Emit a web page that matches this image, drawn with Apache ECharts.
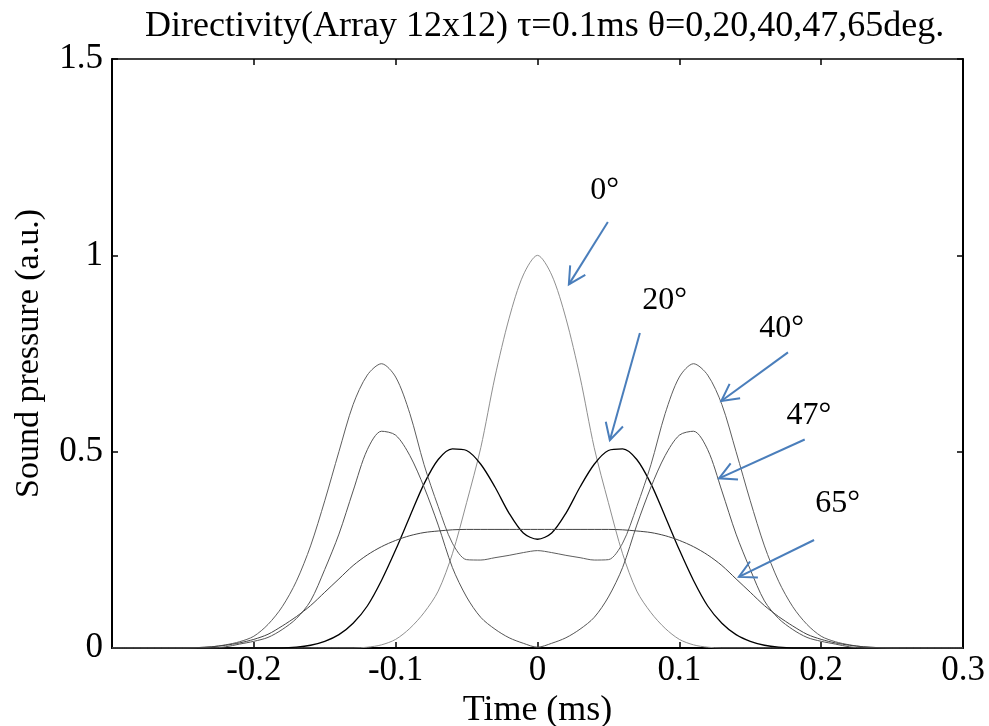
<!DOCTYPE html>
<html>
<head>
<meta charset="utf-8">
<script src="https://cdn.jsdelivr.net/npm/echarts@6/dist/echarts.min.js"></script>
<style>
html,body{margin:0;padding:0;background:#fff;}
#c{width:989px;height:726px;}
</style>
</head>
<body>
<div id="c"></div>
<script>
const time = [-0.30,-0.29,-0.28,-0.27,-0.26,-0.25,-0.24,-0.23,-0.22,-0.21,
  -0.20,-0.19,-0.18,-0.17,-0.16,-0.15,-0.14,-0.13,-0.12,-0.11,
  -0.10,-0.09,-0.08,-0.07,-0.06,-0.05,-0.04,-0.03,-0.02,-0.01,
  0.00,
  0.01,0.02,0.03,0.04,0.05,0.06,0.07,0.08,0.09,0.10,
  0.11,0.12,0.13,0.14,0.15,0.16,0.17,0.18,0.19,0.20,
  0.21,0.22,0.23,0.24,0.25,0.26,0.27,0.28,0.29,0.30];

const deg0 = [0,0,0,0,0,0,0,0,0,0,
  0,0,0,0,0,0,0,0,0.002,0.008,
  0.022,0.05,0.09,0.145,0.24,0.37,0.51,0.69,0.84,0.95,
  1.0,
  0.95,0.84,0.69,0.51,0.37,0.24,0.145,0.09,0.05,0.022,
  0.008,0.002,0,0,0,0,0,0,0,0,
  0,0,0,0,0,0,0,0,0,0];

const deg20 = [0,0,0,0,0,0,0,0,0,0,
  0,0,0,0.002,0.007,0.017,0.034,0.063,0.107,0.172,
  0.25,0.335,0.418,0.48,0.507,0.503,0.468,0.41,0.343,0.293,
  0.277,
  0.293,0.343,0.41,0.468,0.503,0.507,0.48,0.418,0.335,0.25,
  0.172,0.107,0.063,0.034,0.017,0.007,0.002,0,0,0,
  0,0,0,0,0,0,0,0,0,0];

const deg40 = [0,0,0,0,0,0,0.001,0.003,0.008,0.016,
  0.03,0.06,0.105,0.17,0.26,0.375,0.5,0.62,0.695,0.724,
  0.69,0.597,0.467,0.36,0.267,0.225,0.224,0.23,0.236,0.243,
  0.248,
  0.243,0.236,0.23,0.224,0.225,0.267,0.36,0.467,0.597,0.69,
  0.724,0.695,0.62,0.5,0.375,0.26,0.17,0.105,0.06,0.03,
  0.016,0.008,0.003,0.001,0,0,0,0,0,0];

const deg47 = [0,0,0,0,0,0,0,0,0.003,0.01,
  0.017,0.027,0.047,0.075,0.12,0.2,0.29,0.4,0.505,0.552,
  0.542,0.49,0.41,0.313,0.205,0.13,0.078,0.048,0.026,0.012,
  0.002,
  0.012,0.026,0.048,0.078,0.13,0.205,0.313,0.41,0.49,0.542,
  0.552,0.505,0.4,0.29,0.2,0.12,0.075,0.047,0.027,0.017,
  0.01,0.003,0,0,0,0,0,0,0,0];

const deg65 = [0,0,0,0,0,0,0.001,0.003,0.007,0.013,
  0.022,0.035,0.056,0.08,0.108,0.142,0.176,0.21,0.237,0.258,
  0.274,0.286,0.294,0.298,0.301,0.302,0.302,0.302,0.302,0.302,
  0.302,
  0.302,0.302,0.302,0.302,0.302,0.301,0.298,0.294,0.286,0.274,
  0.258,0.237,0.21,0.176,0.142,0.108,0.08,0.056,0.035,0.022,
  0.013,0.007,0.003,0.001,0,0,0,0,0,0];

const xTicks = [-0.3,-0.2,-0.1,0,0.1,0.2,0.3];
const yTicks = [0,0.5,1,1.5];

const seriesNames = ['0°','20°','40°','47°','65°'];
const seriesValues = [deg0, deg20, deg40, deg47, deg65];

// annotation labels and arrows (data coordinates)
const labelPos = [[0.0473,1.165],[0.0896,0.885],[0.1722,0.814],[0.1913,0.593],[0.2117,0.369]];
const arrowFrom = [[0.0496,1.085],[0.0722,0.802],[0.1766,0.753],[0.1884,0.531],[0.195,0.275]];
const arrowTo = [[0.0221,0.926],[0.0510,0.529],[0.1296,0.629],[0.128,0.432],[0.142,0.181]];

const FONT = '"Liberation Serif","Times New Roman",serif';
const lineColors = ['#8f8f8f','#000000','#5e5e5e','#555555','#444444'];
const lineWidths = [1,1.3,1,1,1];

const chart = echarts.init(document.getElementById('c'), null, {renderer:'canvas'});

function xFmt(v){
  if (Math.abs(v - xTicks[0]) < 1e-9) return '';
  return String(+v.toFixed(1));
}
function yFmt(v){ return String(+v.toFixed(1)); }

const axisCommon = {
  axisLine:{onZero:false, lineStyle:{color:'#000', width:2}},
  axisTick:{inside:true, length:6, lineStyle:{color:'#000', width:1.5}},
  splitLine:{show:false}
};

const option = {
  animation:false,
  backgroundColor:'#fff',
  title:{
    text:'Directivity(Array 12x12) \u03c4=0.1ms \u03b8=0,20,40,47,65deg.',
    left:140, top:4,
    textStyle:{fontFamily:FONT, fontSize:36, fontWeight:'normal', color:'#000'}
  },
  grid:{left:112, right:26, top:59, bottom:78, containLabel:false, outerBoundsMode:'none'},
  xAxis:[
    Object.assign({}, axisCommon, {
      type:'value', min:xTicks[0], max:xTicks[xTicks.length-1], interval:0.1, position:'bottom',
      axisLabel:{fontFamily:FONT, fontSize:35, color:'#000', margin:5, formatter:xFmt},
      name:'Time (ms)', nameLocation:'middle', nameGap:43,
      nameTextStyle:{fontFamily:FONT, fontSize:36, color:'#000'}
    }),
    Object.assign({}, axisCommon, {
      type:'value', min:xTicks[0], max:xTicks[xTicks.length-1], interval:0.1, position:'top',
      axisLine:{onZero:false, lineStyle:{color:'#000', width:1.5}},
      axisLabel:{show:false}
    })
  ],
  yAxis:[
    Object.assign({}, axisCommon, {
      type:'value', min:yTicks[0], max:yTicks[yTicks.length-1], interval:0.5, position:'left',
      axisLabel:{fontFamily:FONT, fontSize:35, color:'#000', margin:9, formatter:yFmt},
      name:'Sound pressure (a.u.)', nameLocation:'middle', nameGap:66,
      nameTextStyle:{fontFamily:FONT, fontSize:34, color:'#000'}
    }),
    Object.assign({}, axisCommon, {
      type:'value', min:yTicks[0], max:yTicks[yTicks.length-1], interval:0.5, position:'right',
      axisLabel:{show:false}
    })
  ],
  series: seriesValues.map((vals, k) => ({
    name: seriesNames[k],
    type:'line',
    xAxisIndex:0, yAxisIndex:0,
    data: time.map((t, i) => [t, vals[i]]),
    showSymbol:false,
    smooth:0.3,
    lineStyle:{color:lineColors[k], width:lineWidths[k]},
    itemStyle:{color:lineColors[k]},
    z: 2
  }))
};

chart.setOption(option);

function buildAnnotations(){
  const g = [];
  const blue = '#4a7ebb';
  const headLen = 19, headAng = 28 * Math.PI / 180;
  for (let k = 0; k < seriesNames.length; k++){
    const p0 = chart.convertToPixel({xAxisIndex:0, yAxisIndex:0}, arrowFrom[k]);
    const p1 = chart.convertToPixel({xAxisIndex:0, yAxisIndex:0}, arrowTo[k]);
    const lp = chart.convertToPixel({xAxisIndex:0, yAxisIndex:0}, labelPos[k]);
    const ang = Math.atan2(p0[1]-p1[1], p0[0]-p1[0]);
    const h1 = [p1[0] + headLen*Math.cos(ang+headAng), p1[1] + headLen*Math.sin(ang+headAng)];
    const h2 = [p1[0] + headLen*Math.cos(ang-headAng), p1[1] + headLen*Math.sin(ang-headAng)];
    g.push({type:'line', shape:{x1:p0[0], y1:p0[1], x2:p1[0], y2:p1[1]},
      style:{stroke:blue, lineWidth:2}, z:10});
    g.push({type:'polyline', shape:{points:[h1, p1, h2]},
      style:{stroke:blue, lineWidth:2, fill:null}, z:10});
    g.push({type:'text', x:lp[0], y:lp[1], z:10,
      style:{text:seriesNames[k], font:'32px ' + FONT, fill:'#000',
        align:'center', verticalAlign:'middle', textAlign:'center', textVerticalAlign:'middle'}});
  }
  chart.setOption({graphic:{elements:g}});
}
buildAnnotations();
</script>
</body>
</html>
